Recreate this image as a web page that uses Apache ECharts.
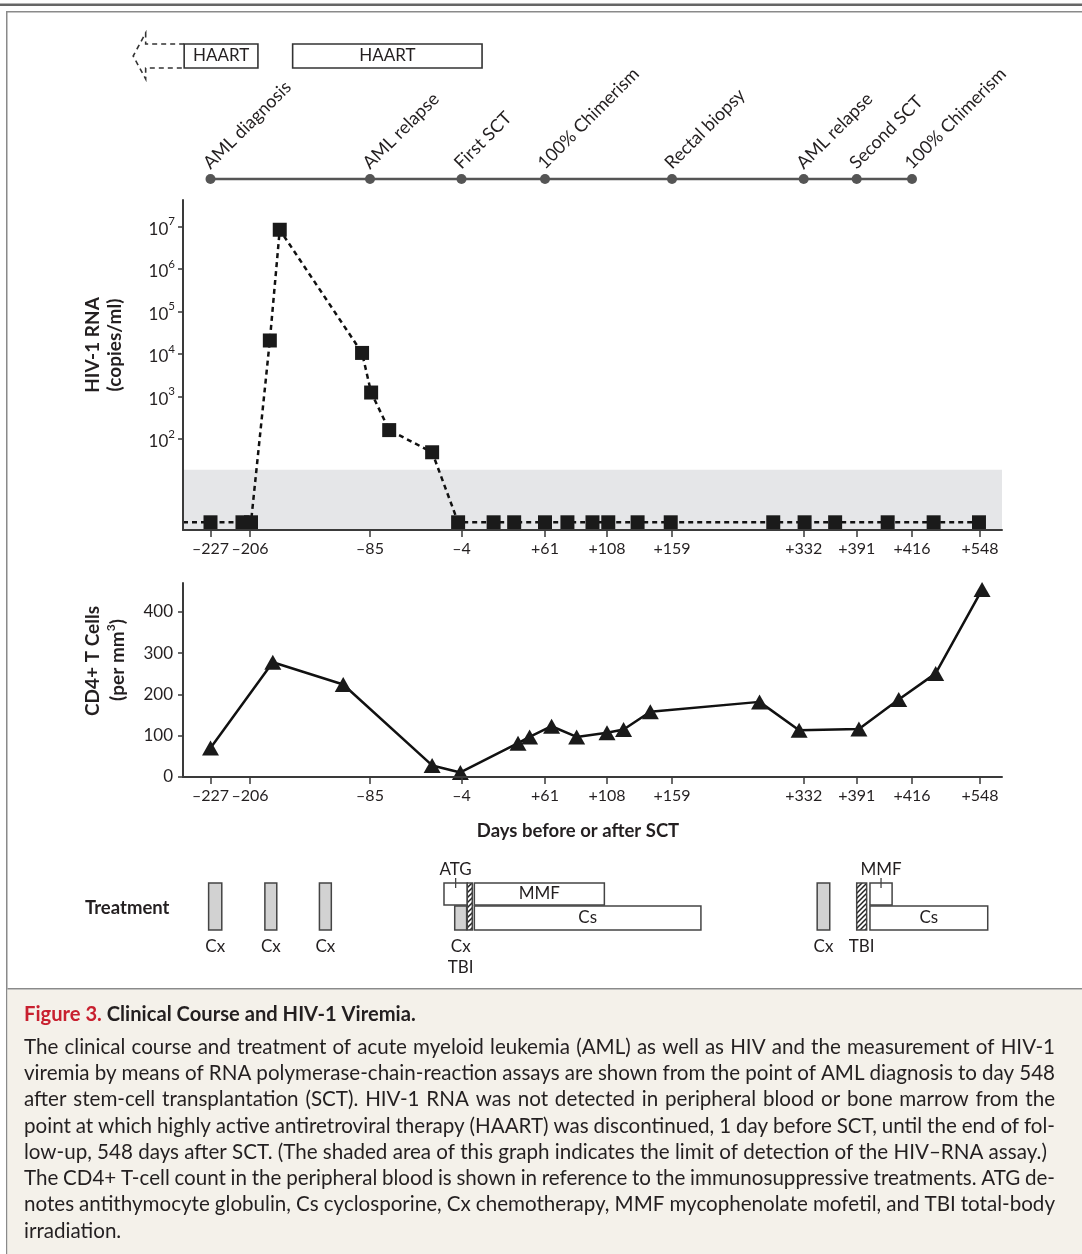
<!DOCTYPE html>
<html><head><meta charset="utf-8">
<script src="https://cdn.jsdelivr.net/npm/echarts@6/dist/echarts.min.js"></script>
<style>html,body{margin:0;padding:0;background:#fff}#c{width:1082px;height:1254px}</style>
</head><body><div id="c"></div>
<script>
// ================= DATA =================
// x-axis: days before/after SCT (schematic, non-linear axis)
const AXIS_TICK_DAYS = [-227, -206, -85, -4, 61, 108, 159, 332, 391, 416, 548];
const AXIS_TICK_LABELS = ['\u2013227', '\u2013206', '\u201385', '\u20134', '+61', '+108', '+159', '+332', '+391', '+416', '+548'];
// placement of each tick along the schematic axis (axis units, axis spans 0..819)
const AXIS_TICK_POS = [27.5, 67, 187, 278.5, 362, 424, 489, 620.7, 673.7, 729, 797];
const AXIS_SPAN = 819;

// clinical events
const EVENT_DAYS = [-227, -85, -4, 61, 159, 332, 391, 416];
const EVENT_LABELS = ['AML diagnosis', 'AML relapse', 'First SCT', '100% Chimerism', 'Rectal biopsy', 'AML relapse', 'Second SCT', '100% Chimerism'];

// HAART periods
const HAART_START = [-241, -163];
const HAART_END = [-198, 12];
const HAART_BEGAN_EARLIER = [true, false];

// HIV-1 RNA (copies/ml); 0 = not detected
const HIV_DAYS = [-227, -210, -205, -186, -176, -93, -84, -68, -30, -7, 21, 37, 61, 78, 97, 109, 132, 158, 292, 333, 367, 405, 458, 546];
const HIV_COPIES = [0, 0, 0, 21000, 8500000, 10700, 1250, 163, 49, 0, 0, 0, 0, 0, 0, 0, 0, 0, 0, 0, 0, 0, 0, 0];
const HIV_UNDETECTED_LEVEL = 1.1;   // level at which "not detected" results are plotted
const HIV_DETECTION_LIMIT = 19;     // top of shaded band
const HIV_LOG_TICKS = [2, 3, 4, 5, 6, 7];
const HIV_LOG_MIN = -0.14, HIV_LOG_MAX = 7.63;

// CD4+ T cells (per mm3)
const CD4_DAYS = [-227, -183, -112, -30, -5, 40, 49, 66, 85, 108, 121, 142, 274, 326, 392, 410, 462, 552];
const CD4_VALUES = [70, 278, 224, 28, 11, 82, 97, 123, 97, 107, 115, 158, 182, 113, 116, 188, 251, 454];
const CD4_TICKS = [0, 100, 200, 300, 400];
const CD4_MAX = 470;

// treatments
const TREAT_KIND  = ['Cx', 'Cx', 'Cx', 'ATG', 'Cx', 'TBI', 'MMF', 'Cs', 'Cx', 'TBI', 'MMF', 'Cs'];
const TREAT_START = [-228, -191, -136, -19.5, -10, 0.5, 6, 6, 347, 391, 397, 397];
const TREAT_END   = [-221, -179, -124, 0.5, 0, 4.4, 106, 197, 361, 395.5, 407, 563];
const TREAT_LANE  = ['full', 'full', 'full', 'top', 'bottom', 'full', 'top', 'bottom', 'full', 'full', 'top', 'bottom'];
const TREAT_LABEL = ['Cx', 'Cx', 'Cx', 'ATG', 'Cx\nTBI', '', 'MMF', 'Cs', 'Cx', 'TBI', 'MMF', 'Cs'];
const TREAT_LABEL_AT = ['below', 'below', 'below', 'above', 'below', 'none', 'inside', 'inside', 'below', 'below', 'above', 'inside'];

const CAPTION_TITLE_RED = 'Figure 3.';
const CAPTION_TITLE = 'Clinical Course and HIV-1 Viremia.';
const CAPTION_LINES = [
  ['The clinical course and treatment of acute myeloid leukemia (AML) as well as HIV and the measurement of HIV-1', true],
  ['viremia by means of RNA polymerase-chain-reaction assays are shown from the point of AML diagnosis to day 548', true],
  ['after stem-cell transplantation (SCT). HIV-1 RNA was not detected in peripheral blood or bone marrow from the', true],
  ['point at which highly active antiretroviral therapy (HAART) was discontinued, 1 day before SCT, until the end of fol-', true],
  ['low-up, 548 days after SCT. (The shaded area of this graph indicates the limit of detection of the HIV\u2013RNA assay.)', false],
  ['The CD4+ T-cell count in the peripheral blood is shown in reference to the immunosuppressive treatments. ATG de-', true],
  ['notes antithymocyte globulin, Cs cyclosporine, Cx chemotherapy, MMF mycophenolate mofetil, and TBI total-body', true],
  ['irradiation.', false]
];

// ================= LAYOUT / STYLE =================
const FONT = 'Lato';
const INK = '#231f20';
const AX = '#3a3a3a';
const L = {
  left: 183,
  hivTop: 200, hivH: 330,
  cd4Top: 583, cd4H: 194,
  tlY: 179, dotR: 5,
  haTop: 44, haBot: 68,
  trTop: 883, trTopEnd: 905, trBotStart: 906, trBot: 930,
  trBelowY: 946, trLineH: 21, trAboveY: 870,
  capLeft: 24, capRight: 1055, capTitleY: 1014, capY0: 1047, capStep: 26.3
};

// piecewise-linear schematic scale: days -> axis units
function dayToPos(d) {
  const D = AXIS_TICK_DAYS, P = AXIS_TICK_POS, n = D.length;
  let i = 0;
  if (d <= D[0]) i = 0;
  else if (d >= D[n - 1]) i = n - 2;
  else { while (d > D[i + 1]) i++; }
  return P[i] + (d - D[i]) * (P[i + 1] - P[i]) / (D[i + 1] - D[i]);
}

const hatch = document.createElement('canvas');
hatch.width = 5; hatch.height = 5;
(function () {
  const h = hatch.getContext('2d');
  h.fillStyle = '#fff'; h.fillRect(0, 0, 5, 5);
  h.strokeStyle = '#222'; h.lineWidth = 1.5;
  h.beginPath();
  h.moveTo(-1, 6); h.lineTo(6, -1);
  h.moveTo(-1, 1); h.lineTo(1, -1);
  h.moveTo(4, 6); h.lineTo(6, 4);
  h.stroke();
})();

const mctx = document.createElement('canvas').getContext('2d');
function measure(text, weight, size) { mctx.font = weight + ' ' + size + 'px ' + FONT; return mctx.measureText(text).width; }

// ================= OPTION =================
const xBase = (gridIndex, show) => ({
  type: 'value', gridIndex, min: 0, max: AXIS_SPAN, show, z: 5,
  axisLine: { show: true, onZero: false, lineStyle: { color: AX, width: 2 } },
  axisTick: { show: true, length: 7, lineStyle: { color: AX, width: 1.5 }, customValues: AXIS_TICK_POS },
  axisLabel: {
    customValues: AXIS_TICK_POS, margin: 11, color: INK, fontFamily: FONT, fontSize: 16,
    formatter: v => { let best = 0; AXIS_TICK_POS.forEach((p, i) => { if (Math.abs(p - v) < Math.abs(AXIS_TICK_POS[best] - v)) best = i; }); return AXIS_TICK_LABELS[best]; }
  },
  splitLine: { show: false }
});

const hivData = HIV_DAYS.map((d, i) => [dayToPos(d), Math.log10(HIV_COPIES[i] > 0 ? HIV_COPIES[i] : HIV_UNDETECTED_LEVEL)]);
const cd4Data = CD4_DAYS.map((d, i) => [dayToPos(d), CD4_VALUES[i]]);

const graphics = [];
// frame
graphics.push({ type: 'rect', shape: { x: 0, y: 3.5, width: 1082, height: 2.5 }, style: { fill: '#666' } });
graphics.push({ type: 'rect', shape: { x: 6, y: 11, width: 1076, height: 1.5 }, style: { fill: '#8a8a8a' } });
graphics.push({ type: 'rect', shape: { x: 6, y: 11, width: 1.5, height: 1243 }, style: { fill: '#8a8a8a' } });
graphics.push({ type: 'rect', shape: { x: 7.5, y: 989.5, width: 1075, height: 265 }, style: { fill: '#f4f1ea' } });
graphics.push({ type: 'rect', shape: { x: 7.5, y: 988, width: 1075, height: 1.5 }, style: { fill: '#8a8a8a' } });
// axis names
const boldTxt = (text, x, y, size, rot, align) => ({ type: 'text', x, y, rotation: rot || 0,
  style: { text, fill: INK, fontFamily: FONT, fontWeight: 'bold', fontSize: size, align: align || 'center', verticalAlign: 'middle' } });
graphics.push(boldTxt('HIV-1 RNA', 93, 345, 19, Math.PI / 2));
graphics.push(boldTxt('(copies/ml)', 115, 345, 19, Math.PI / 2));
graphics.push(boldTxt('CD4+ T Cells', 93, 661, 19, Math.PI / 2));
graphics.push({ type: 'text', x: 116, y: 660, rotation: Math.PI / 2,
  style: { text: '{a|(per mm}{s|3}{a|)}', align: 'center', verticalAlign: 'middle',
    rich: { a: { fontFamily: FONT, fontWeight: 'bold', fontSize: 19, fill: INK, lineHeight: 22, verticalAlign: 'bottom' },
            s: { fontFamily: FONT, fontWeight: 'bold', fontSize: 12, fill: INK, lineHeight: 22, verticalAlign: 'top' } } } });
graphics.push(boldTxt('Days before or after SCT', 578, 831, 18.5));
graphics.push(boldTxt('Treatment', 85, 908, 18.5, 0, 'left'));

// caption
const capSize = 1023 / measure(CAPTION_LINES[4][0], 'normal', 100) * 100;
const titleSize = 392 / measure(CAPTION_TITLE_RED + ' ' + CAPTION_TITLE, 'bold', 100) * 100;
graphics.push({ type: 'text', x: L.capLeft, y: L.capTitleY, style: { text: CAPTION_TITLE_RED, fill: '#c8202f', fontFamily: FONT, fontWeight: 'bold', fontSize: titleSize, verticalAlign: 'middle' } });
graphics.push({ type: 'text', x: L.capLeft + measure(CAPTION_TITLE_RED + ' ', 'bold', titleSize), y: L.capTitleY, style: { text: CAPTION_TITLE, fill: INK, fontFamily: FONT, fontWeight: 'bold', fontSize: titleSize, verticalAlign: 'middle' } });
CAPTION_LINES.forEach(([line, justify], li) => {
  const y = L.capY0 + li * L.capStep;
  const words = line.split(' ');
  const widths = words.map(w => measure(w, 'normal', capSize));
  const total = widths.reduce((a, b) => a + b, 0);
  const gap = justify ? (L.capRight - L.capLeft - total) / (words.length - 1) : measure(' ', 'normal', capSize);
  let x = L.capLeft;
  words.forEach((w, wi) => {
    graphics.push({ type: 'text', x, y, style: { text: w, fill: INK, fontFamily: FONT, fontSize: capSize, verticalAlign: 'middle' } });
    x += widths[wi] + gap;
  });
});

const option = {
  animation: false,
  backgroundColor: '#fff',
  grid: [
    { left: L.left, top: L.hivTop, width: AXIS_SPAN, height: L.hivH },
    { left: L.left, top: L.cd4Top, width: AXIS_SPAN, height: L.cd4H },
    { left: L.left, top: 0, width: AXIS_SPAN, height: 190 },
    { left: L.left, top: 860, width: AXIS_SPAN, height: 110 }
  ],
  xAxis: [xBase(0, true), xBase(1, true), xBase(2, false), xBase(3, false)],
  yAxis: [
    { type: 'value', gridIndex: 0, min: HIV_LOG_MIN, max: HIV_LOG_MAX, z: 5,
      axisLine: { show: true, lineStyle: { color: AX, width: 2 } },
      axisTick: { show: true, length: 5, customValues: HIV_LOG_TICKS, lineStyle: { color: AX, width: 1.5 } },
      axisLabel: { customValues: HIV_LOG_TICKS, margin: 8, formatter: v => '{b|10}{s|' + v + '}',
        rich: { b: { fontFamily: FONT, fontSize: 17, color: INK, lineHeight: 22, verticalAlign: 'bottom' },
                s: { fontFamily: FONT, fontSize: 11.5, color: INK, lineHeight: 22, verticalAlign: 'top' } } },
      splitLine: { show: false } },
    { type: 'value', gridIndex: 1, min: 0, max: CD4_MAX, z: 5,
      axisLine: { show: true, lineStyle: { color: AX, width: 2 } },
      axisTick: { show: true, length: 5, customValues: CD4_TICKS, lineStyle: { color: AX, width: 1.5 } },
      axisLabel: { customValues: CD4_TICKS, margin: 10, color: INK, fontFamily: FONT, fontSize: 17 },
      splitLine: { show: false } },
    { type: 'value', gridIndex: 2, min: 0, max: 1, show: false },
    { type: 'value', gridIndex: 3, min: 0, max: 1, show: false }
  ],
  graphic: { elements: graphics },
  series: [
    // detection-limit band
    { type: 'custom', xAxisIndex: 0, yAxisIndex: 0, z: 1, silent: true,
      data: [[HIV_DETECTION_LIMIT]],
      renderItem: (p, api) => {
        const a = api.coord([0, Math.log10(api.value(0))]);
        const b = api.coord([AXIS_SPAN, HIV_LOG_MIN]);
        return { type: 'rect', shape: { x: a[0], y: a[1], width: b[0] - a[0], height: b[1] - a[1] }, style: { fill: '#e5e6e8' } };
      } },
    // lead-in of the undetected baseline from axis start
    { type: 'line', xAxisIndex: 0, yAxisIndex: 0, z: 3, symbol: 'none', silent: true,
      data: [[0, hivData[0][1]], hivData[0]],
      lineStyle: { color: '#111', width: 2.5, type: [5, 4] } },
    { type: 'line', name: 'HIV-1 RNA', xAxisIndex: 0, yAxisIndex: 0, z: 4, data: hivData,
      symbol: 'rect', symbolSize: 14, itemStyle: { color: '#1a1a1a' },
      lineStyle: { color: '#111', width: 2.5, type: [5, 4] } },
    { type: 'line', name: 'CD4+', xAxisIndex: 1, yAxisIndex: 1, z: 4, data: cd4Data,
      symbol: 'triangle', symbolSize: [17, 15], itemStyle: { color: '#1a1a1a' },
      lineStyle: { color: '#111', width: 2.5 } },
    // timeline line
    { type: 'custom', xAxisIndex: 2, yAxisIndex: 2, z: 2, silent: true,
      data: [[dayToPos(EVENT_DAYS[0]), dayToPos(EVENT_DAYS[EVENT_DAYS.length - 1])]],
      renderItem: (p, api) => {
        const x1 = api.coord([api.value(0), 0])[0], x2 = api.coord([api.value(1), 0])[0];
        return { type: 'line', shape: { x1, y1: L.tlY, x2, y2: L.tlY }, style: { stroke: '#555', lineWidth: 2.5 } };
      } },
    // timeline events
    { type: 'custom', xAxisIndex: 2, yAxisIndex: 2, z: 3, silent: true,
      data: EVENT_DAYS.map((d, i) => [dayToPos(d), i]),
      renderItem: (p, api) => {
        const x = api.coord([api.value(0), 0])[0];
        const label = EVENT_LABELS[api.value(1)];
        return { type: 'group', children: [
          { type: 'circle', shape: { cx: x, cy: L.tlY, r: L.dotR }, style: { fill: '#555' } },
          { type: 'text', x: x - 4, y: L.tlY - 13, rotation: Math.PI / 4,
            style: { text: label, fill: INK, fontFamily: FONT, fontSize: 18, align: 'left', verticalAlign: 'middle' } }
        ] };
      } },
    // HAART
    { type: 'custom', xAxisIndex: 2, yAxisIndex: 2, z: 3, silent: true,
      data: HAART_START.map((s, i) => [dayToPos(s), dayToPos(HAART_END[i]), i]),
      renderItem: (p, api) => {
        const x1 = api.coord([api.value(0), 0])[0], x2 = api.coord([api.value(1), 0])[0];
        const t = L.haTop, b = L.haBot, m = (t + b) / 2;
        const ch = [
          { type: 'rect', shape: { x: x1, y: t, width: x2 - x1, height: b - t }, style: { fill: '#fff', stroke: '#333', lineWidth: 1.6 } },
          { type: 'text', x: (x1 + x2) / 2, y: m, style: { text: 'HAART', fill: INK, fontFamily: FONT, fontSize: 17, align: 'center', verticalAlign: 'middle' } }
        ];
        if (HAART_BEGAN_EARLIER[api.value(2)]) {
          ch.push({ type: 'polyline', shape: { points: [[x1, t], [x1 - 38.5, t], [x1 - 38.5, t - 11], [x1 - 51, m], [x1 - 38.5, b + 11], [x1 - 38.5, b], [x1, b]] },
            style: { stroke: '#333', lineWidth: 1.6, lineDash: [5, 4], fill: null } });
        }
        return { type: 'group', children: ch };
      } },
    // treatments
    { type: 'custom', xAxisIndex: 3, yAxisIndex: 3, z: 3, silent: true,
      data: TREAT_START.map((s, i) => [dayToPos(s), dayToPos(TREAT_END[i]), i]),
      renderItem: (p, api) => {
        const i = api.value(2);
        const x1 = api.coord([api.value(0), 0])[0], x2 = api.coord([api.value(1), 0])[0];
        const lane = TREAT_LANE[i], kind = TREAT_KIND[i];
        const y1 = lane === 'bottom' ? L.trBotStart : L.trTop;
        const y2 = lane === 'top' ? L.trTopEnd : L.trBot;
        let fill = '#fff';
        if (kind === 'Cx') fill = '#d2d2d2';
        if (kind === 'TBI') fill = { image: hatch, repeat: 'repeat' };
        const ch = [{ type: 'rect', shape: { x: x1, y: y1, width: x2 - x1, height: y2 - y1 }, style: { fill, stroke: '#444', lineWidth: 1.5 } }];
        const cx = (x1 + x2) / 2;
        const at = TREAT_LABEL_AT[i];
        const ts = { fill: INK, fontFamily: FONT, fontSize: 17, align: 'center', verticalAlign: 'middle', lineHeight: L.trLineH };
        if (at === 'below') ch.push({ type: 'text', x: cx, y: L.trBelowY, style: Object.assign({ text: TREAT_LABEL[i] }, ts, { verticalAlign: 'top', y: -10 }) });
        if (at === 'inside') ch.push({ type: 'text', x: cx, y: (y1 + y2) / 2, style: Object.assign({ text: TREAT_LABEL[i] }, ts) });
        if (at === 'above') {
          ch.push({ type: 'text', x: cx, y: L.trAboveY, style: Object.assign({ text: TREAT_LABEL[i] }, ts) });
          ch.push({ type: 'line', shape: { x1: cx, y1: L.trAboveY + 8, x2: cx, y2: y1 + 5 }, style: { stroke: '#444', lineWidth: 1.3 } });
        }
        return { type: 'group', children: ch };
      } }
  ]
};
const chart = echarts.init(document.getElementById('c'), null, { renderer: 'canvas', width: 1082, height: 1254 });
chart.setOption(option);
</script>
</body></html>
